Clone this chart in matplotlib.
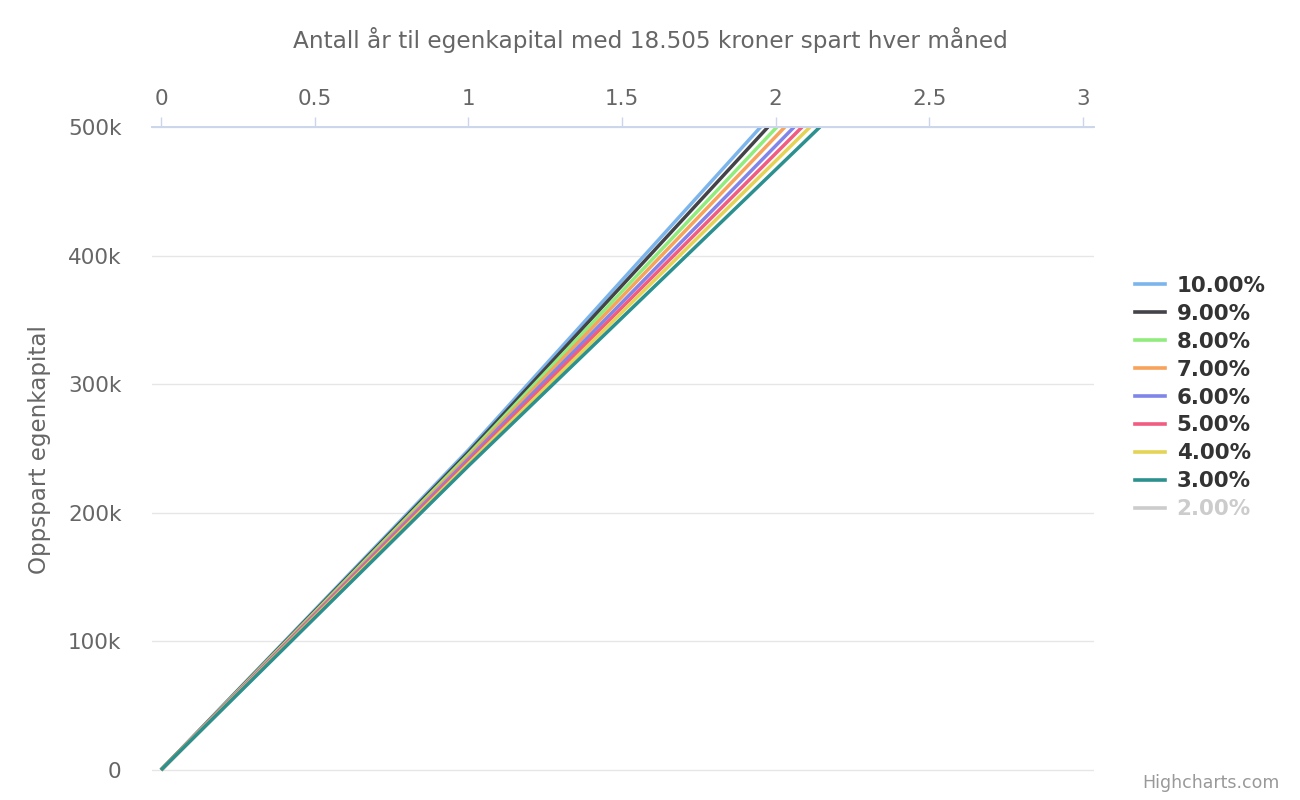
import matplotlib.pyplot as plt
from matplotlib.lines import Line2D
from matplotlib.ticker import FuncFormatter

# Data (thousands of kroner)
rates = ['10.00%', '9.00%', '8.00%', '7.00%', '6.00%', '5.00%', '4.00%', '3.00%', '2.00%']
colors = ['#7cb5ec', '#434348', '#90ed7d', '#f7a35c', '#8085e9',
          '#f15c80', '#e4d354', '#2b908f', '#f45b5b']
visible = [True] * 8 + [False]  # 2.00% is switched off in the legend
value_year1 = [248.8, 247.0, 245.3, 243.5, 241.7, 240.0, 238.2, 236.4, 234.6]
years_to_goal = [1.951, 1.975, 2.004, 2.030, 2.060, 2.086, 2.112, 2.144, 2.17]
goal = 500

W, H = 1300, 800
fig = plt.figure(figsize=(W / 100, H / 100), dpi=100)
# axes go 2px below the zero line so the bottom grid line is not clipped
ax = fig.add_axes([152 / W, 1 - 772 / H, (1094 - 152) / W, (772 - 127) / H])

for rate, col, vis, v1, t in zip(rates, colors, visible, value_year1, years_to_goal):
    if not vis:
        continue
    ax.plot([0, 1, t], [0, v1 * 1000, goal * 1000], color=col, lw=2.5,
            solid_capstyle='butt', solid_joinstyle='round')

ax.set_xlim(-9 / 307.3, 3 + 11 / 307.3)
ax.set_ylim(-500000 * 2 / 643, 500000)
ax.set_xticks([0, 0.5, 1, 1.5, 2, 2.5, 3])
ax.xaxis.set_major_formatter(FuncFormatter(lambda v, p: f'{v:g}'))
ax.set_yticks([0, 100000, 200000, 300000, 400000, 500000])
ax.yaxis.set_major_formatter(FuncFormatter(lambda v, p: '0' if v == 0 else f'{int(v / 1000)}k'))

ax.xaxis.tick_top()
ax.tick_params(axis='x', direction='out', length=7.2, width=1, color='#ccd6eb',
               labelsize=15.5, labelcolor='#666666', pad=6)
ax.tick_params(axis='y', length=0, labelsize=15.5, labelcolor='#666666', pad=22)

for s in ['left', 'right', 'bottom']:
    ax.spines[s].set_visible(False)
ax.spines['top'].set_color('#ccd6eb')
ax.spines['top'].set_linewidth(1.4)
ax.grid(axis='y', color='#e6e6e6', lw=1)
ax.set_axisbelow(True)

ax.set_ylabel('Oppspart egenkapital', fontsize=16.6, color='#666666', labelpad=12)
fig.text(650 / W, 1 - 40 / H, 'Antall år til egenkapital med 18.505 kroner spart hver måned',
         ha='center', va='center', fontsize=16.7, color='#666666')

handles = [Line2D([0], [0], color=(c if v else '#cccccc'), lw=2.6)
           for c, v in zip(colors, visible)]
leg = fig.legend(handles, rates, loc='center left', bbox_to_anchor=(1135 / W, 1 - 397.5 / H),
                 frameon=False, borderpad=0, borderaxespad=0, handlelength=1.4,
                 handletextpad=0.55, labelspacing=0.37,
                 prop={'weight': 'bold', 'size': 15.4})
for txt, v in zip(leg.get_texts(), visible):
    txt.set_color('#333333' if v else '#cccccc')

fig.text(1280 / W, 1 - 783 / H, 'Highcharts.com', ha='right', va='center',
         fontsize=12.5, color='#999999')

fig.savefig('out.png', dpi=100)
